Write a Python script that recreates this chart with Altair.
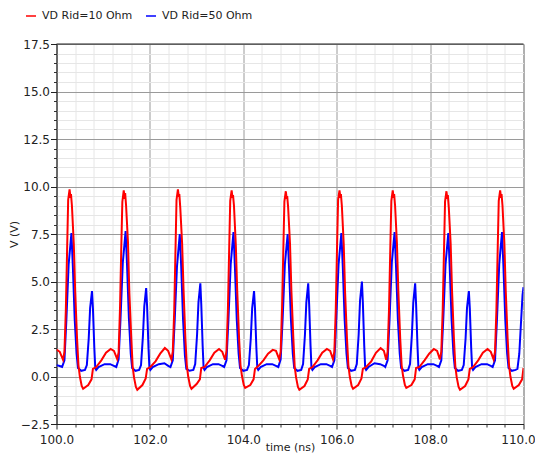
import altair as alt
import pandas as pd

FONT = "DejaVu Sans"
SERIES = ["VD Rid=10 Ohm", "VD Rid=50 Ohm"]
COLORS = ["#ff0000", "#0000ff"]

# ---- axis tick positions ----
x_major = [100.0, 102.0, 104.0, 106.0, 108.0, 110.0]
x_minor = [100.4, 100.8, 101.2, 101.6, 102.4, 102.8, 103.2, 103.6, 104.4, 104.8,
           105.2, 105.6, 106.4, 106.8, 107.2, 107.6, 108.4, 108.8, 109.2, 109.6]
y_major = [-2.5, 0.0, 2.5, 5.0, 7.5, 10.0, 12.5, 15.0, 17.5]
y_minor = [-2.0, -1.5, -1.0, -0.5, 0.5, 1.0, 1.5, 2.0, 3.0, 3.5, 4.0, 4.5,
           5.5, 6.0, 6.5, 7.0, 8.0, 8.5, 9.0, 9.5, 10.5, 11.0, 11.5, 12.0,
           13.0, 13.5, 14.0, 14.5, 15.5, 16.0, 16.5, 17.0]

# ---- VD, Rid = 10 Ohm (red) ----
red_t = [
    100.00, 100.07,
    100.14, 100.17, 100.20, 100.23, 100.25, 100.28, 100.30, 100.31, 100.33, 100.37, 100.40, 100.44,
    100.47, 100.50, 100.54, 100.57, 100.68, 100.75, 100.78, 100.85, 100.96, 101.06, 101.16, 101.23,
    101.30, 101.33, 101.36, 101.39, 101.41, 101.44, 101.46, 101.47, 101.49, 101.53, 101.56, 101.60,
    101.63, 101.66, 101.70, 101.73, 101.84, 101.91, 101.94, 102.01, 102.12, 102.22, 102.32, 102.39,
    102.46, 102.49, 102.52, 102.55, 102.57, 102.60, 102.62, 102.63, 102.65, 102.69, 102.72, 102.76,
    102.79, 102.82, 102.86, 102.89, 103.00, 103.07, 103.10, 103.17, 103.28, 103.38, 103.48, 103.55,
    103.61, 103.64, 103.67, 103.70, 103.72, 103.75, 103.77, 103.78, 103.80, 103.84, 103.87, 103.91,
    103.94, 103.97, 104.01, 104.04, 104.15, 104.22, 104.25, 104.32, 104.43, 104.53, 104.63, 104.70,
    104.77, 104.80, 104.83, 104.86, 104.88, 104.91, 104.93, 104.94, 104.96, 105.00, 105.03, 105.07,
    105.10, 105.13, 105.17, 105.20, 105.31, 105.38, 105.41, 105.48, 105.59, 105.69, 105.79, 105.86,
    105.92, 105.95, 105.98, 106.01, 106.03, 106.06, 106.08, 106.09, 106.11, 106.15, 106.18, 106.22,
    106.25, 106.28, 106.32, 106.35, 106.46, 106.53, 106.56, 106.63, 106.74, 106.84, 106.94, 107.01,
    107.06, 107.09, 107.12, 107.15, 107.17, 107.20, 107.22, 107.23, 107.25, 107.29, 107.32, 107.36,
    107.39, 107.42, 107.46, 107.49, 107.60, 107.67, 107.70, 107.77, 107.88, 107.98, 108.08, 108.15,
    108.21, 108.24, 108.27, 108.30, 108.32, 108.35, 108.37, 108.38, 108.40, 108.44, 108.47, 108.51,
    108.54, 108.57, 108.61, 108.64, 108.75, 108.82, 108.85, 108.92, 109.03, 109.13, 109.23, 109.30,
    109.36, 109.39, 109.42, 109.45, 109.47, 109.50, 109.52, 109.53, 109.55, 109.59, 109.62, 109.66,
    109.69, 109.72, 109.76, 109.79, 109.90, 109.97, 110.00,
]
red_v = [
    1.42, 1.30,
    0.88, 1.30, 3.50, 7.00, 9.30, 9.85, 9.40, 9.60, 9.00, 7.00, 4.50, 2.00,
    0.60, 0.00, -0.50, -0.65, -0.45, -0.15, 0.40, 0.50, 0.85, 1.25, 1.45, 1.35,
    0.92, 1.25, 3.60, 7.10, 9.20, 9.80, 9.35, 9.65, 9.00, 7.10, 4.40, 2.10,
    0.55, -0.05, -0.55, -0.70, -0.45, -0.10, 0.40, 0.50, 0.80, 1.20, 1.50, 1.35,
    0.90, 1.30, 3.40, 6.90, 9.30, 9.85, 9.45, 9.60, 8.90, 7.00, 4.60, 2.00,
    0.60, 0.00, -0.50, -0.65, -0.40, -0.15, 0.45, 0.50, 0.85, 1.25, 1.45, 1.30,
    0.88, 1.35, 3.50, 7.00, 9.25, 9.80, 9.40, 9.55, 9.00, 6.90, 4.50, 2.00,
    0.60, 0.05, -0.45, -0.60, -0.45, -0.15, 0.40, 0.55, 0.85, 1.20, 1.40, 1.35,
    0.90, 1.30, 3.60, 7.00, 9.20, 9.75, 9.35, 9.50, 8.90, 7.00, 4.50, 2.10,
    0.55, -0.05, -0.55, -0.70, -0.50, -0.15, 0.40, 0.50, 0.85, 1.25, 1.45, 1.35,
    0.92, 1.30, 3.50, 7.10, 9.30, 9.80, 9.40, 9.60, 9.00, 7.00, 4.40, 2.00,
    0.60, 0.00, -0.50, -0.65, -0.45, -0.10, 0.40, 0.50, 0.80, 1.25, 1.50, 1.35,
    0.88, 1.30, 3.50, 7.00, 9.25, 9.80, 9.40, 9.60, 9.00, 7.00, 4.50, 2.00,
    0.60, 0.05, -0.45, -0.60, -0.45, -0.15, 0.45, 0.50, 0.85, 1.20, 1.45, 1.35,
    0.90, 1.30, 3.50, 6.90, 9.20, 9.75, 9.35, 9.55, 8.90, 7.00, 4.50, 2.00,
    0.55, -0.05, -0.55, -0.70, -0.50, -0.15, 0.40, 0.50, 0.85, 1.25, 1.45, 1.30,
    0.90, 1.30, 3.50, 7.00, 9.25, 9.80, 9.40, 9.60, 9.00, 7.00, 4.50, 2.00,
    0.60, 0.00, -0.50, -0.65, -0.45, -0.15, 0.45,
]

# ---- VD, Rid = 50 Ohm (blue) ----
blue_t = [
    100.00, 100.07,
    100.12, 100.17, 100.21, 100.26, 100.32, 100.35, 100.39, 100.43, 100.46, 100.53, 100.61, 100.65,
    100.69, 100.72, 100.76, 100.78, 100.81, 100.83, 100.85, 100.90, 101.03, 101.15, 101.24,
    101.28, 101.33, 101.37, 101.42, 101.48, 101.51, 101.55, 101.59, 101.62, 101.69, 101.77, 101.81,
    101.85, 101.88, 101.92, 101.94, 101.97, 101.99, 102.01, 102.06, 102.19, 102.31, 102.40,
    102.44, 102.49, 102.53, 102.58, 102.64, 102.67, 102.71, 102.75, 102.78, 102.85, 102.93, 102.97,
    103.01, 103.04, 103.08, 103.10, 103.13, 103.15, 103.17, 103.22, 103.35, 103.47, 103.56,
    103.59, 103.64, 103.68, 103.73, 103.79, 103.82, 103.86, 103.90, 103.93, 104.00, 104.08, 104.12,
    104.16, 104.19, 104.23, 104.25, 104.28, 104.30, 104.32, 104.37, 104.50, 104.62, 104.71,
    104.75, 104.80, 104.84, 104.89, 104.95, 104.98, 105.02, 105.06, 105.09, 105.16, 105.24, 105.28,
    105.32, 105.35, 105.39, 105.41, 105.44, 105.46, 105.48, 105.53, 105.66, 105.78, 105.87,
    105.90, 105.95, 105.99, 106.04, 106.10, 106.13, 106.17, 106.21, 106.24, 106.31, 106.39, 106.43,
    106.47, 106.50, 106.54, 106.56, 106.59, 106.61, 106.63, 106.68, 106.81, 106.93, 107.02,
    107.04, 107.09, 107.13, 107.18, 107.24, 107.27, 107.31, 107.35, 107.38, 107.45, 107.53, 107.57,
    107.61, 107.64, 107.68, 107.70, 107.73, 107.75, 107.77, 107.82, 107.95, 108.07, 108.16,
    108.19, 108.24, 108.28, 108.33, 108.39, 108.42, 108.46, 108.50, 108.53, 108.60, 108.68, 108.72,
    108.76, 108.79, 108.83, 108.85, 108.88, 108.90, 108.92, 108.97, 109.10, 109.22, 109.31,
    109.34, 109.39, 109.43, 109.48, 109.54, 109.57, 109.61, 109.65, 109.68, 109.75, 109.83, 109.87,
    109.91, 109.95, 109.98, 110.00,
]
blue_v = [
    0.60, 0.55,
    0.50, 0.85, 2.90, 5.90, 7.55, 5.80, 3.00, 1.20, 0.45, 0.30, 0.35, 0.60,
    2.00, 3.60, 4.50, 3.60, 1.50, 0.45, 0.35, 0.50, 0.65, 0.65, 0.55,
    0.50, 0.90, 3.00, 6.00, 7.65, 5.90, 3.10, 1.20, 0.45, 0.30, 0.35, 0.60,
    2.10, 3.70, 4.65, 3.70, 1.50, 0.45, 0.35, 0.50, 0.65, 0.70, 0.55,
    0.50, 0.85, 2.90, 5.80, 7.50, 5.80, 3.00, 1.10, 0.40, 0.30, 0.35, 0.65,
    2.20, 3.90, 4.90, 3.80, 1.60, 0.45, 0.35, 0.50, 0.65, 0.65, 0.55,
    0.50, 0.85, 2.90, 5.90, 7.60, 5.80, 3.00, 1.20, 0.45, 0.30, 0.35, 0.60,
    2.00, 3.60, 4.50, 3.60, 1.50, 0.45, 0.35, 0.50, 0.65, 0.65, 0.55,
    0.50, 0.90, 2.90, 5.90, 7.50, 5.70, 3.00, 1.20, 0.45, 0.30, 0.35, 0.65,
    2.20, 3.90, 4.90, 3.80, 1.60, 0.45, 0.35, 0.50, 0.65, 0.65, 0.55,
    0.50, 0.85, 3.00, 5.90, 7.55, 5.80, 3.00, 1.20, 0.45, 0.30, 0.35, 0.65,
    2.20, 4.00, 5.00, 3.90, 1.60, 0.45, 0.35, 0.50, 0.70, 0.65, 0.55,
    0.50, 0.85, 2.90, 6.00, 7.60, 5.80, 3.00, 1.20, 0.45, 0.30, 0.35, 0.65,
    2.20, 3.90, 4.90, 3.80, 1.60, 0.45, 0.35, 0.50, 0.65, 0.65, 0.55,
    0.50, 0.85, 2.90, 5.90, 7.55, 5.80, 3.00, 1.20, 0.45, 0.30, 0.35, 0.60,
    2.00, 3.60, 4.50, 3.60, 1.50, 0.45, 0.35, 0.50, 0.65, 0.65, 0.55,
    0.50, 0.85, 2.90, 5.90, 7.60, 5.80, 3.00, 1.20, 0.45, 0.30, 0.35, 0.40,
    1.20, 3.00, 4.30, 4.70,
]

red = pd.DataFrame({"t": red_t, "v": red_v, "series": SERIES[0]})
blue = pd.DataFrame({"t": blue_t, "v": blue_v, "series": SERIES[1]})
top_edge = pd.DataFrame({"v": [y_major[-1]]})

x_scale = alt.Scale(domain=[x_major[0], x_major[-1]], nice=False, zero=False)
y_scale = alt.Scale(domain=[y_major[0], y_major[-1]], nice=False, zero=False)
color_scale = alt.Scale(domain=SERIES, range=COLORS)

legend = alt.Legend(
    orient="none", legendX=-31.5, legendY=-34, direction="horizontal", title=None,
    symbolType="stroke", symbolSize=100, symbolStrokeWidth=1.5,
    labelFont=FONT, labelFontSize=11, labelColor="#222", labelOffset=5,
    columnPadding=10, padding=0,
)

minor_x_axis = alt.Axis(
    values=x_minor, orient="bottom", title=None, labels=False, domain=False,
    ticks=True, tickSize=3, tickColor="#333", grid=True, gridColor="#e6e6e6", gridWidth=1,
)
minor_y_axis = alt.Axis(
    values=y_minor, orient="left", title=None, labels=False, domain=False,
    ticks=True, tickSize=3, tickColor="#333", grid=True, gridColor="#e6e6e6", gridWidth=1,
)
major_x_axis = alt.Axis(
    values=x_major, orient="bottom", title="time (ns)", format=".1f",
    labelFont=FONT, labelFontSize=12, labelColor="#222", labelPadding=5,
    labelFlush=False, labelOverlap=False,
    labelOffset={"condition": {"test": "datum.value >= 109.9", "value": -5.5}, "value": 0},
    tickSize=5, tickColor="#222", domainColor="#222", domainWidth=1,
    grid=True, gridColor="#9a9a9a", gridWidth=1,
    titleFont=FONT, titleFontSize=11, titleFontWeight="normal", titleColor="#222",
    titleBaseline="alphabetic", titleY=26,
)
major_y_axis = alt.Axis(
    values=y_major, orient="left", title="V (V)", format=".1f",
    labelFont=FONT, labelFontSize=12, labelColor="#222", labelPadding=1,
    labelOverlap=False,
    tickSize=6, tickColor="#222", domainColor="#222", domainWidth=1,
    grid=True, gridColor="#9a9a9a", gridWidth=1,
    titleFont=FONT, titleFontSize=11, titleFontWeight="normal", titleColor="#222",
    titlePadding=1,
)

blue_line = alt.Chart(blue).mark_line(strokeWidth=2, clip=True).encode(
    x=alt.X("t:Q", scale=x_scale, axis=minor_x_axis),
    y=alt.Y("v:Q", scale=y_scale, axis=minor_y_axis),
    color=alt.Color("series:N", scale=color_scale, legend=legend),
)
red_line = alt.Chart(red).mark_line(strokeWidth=2, clip=True).encode(
    x=alt.X("t:Q", scale=x_scale, axis=major_x_axis),
    y=alt.Y("v:Q", scale=y_scale, axis=major_y_axis),
    color=alt.Color("series:N", scale=color_scale, legend=legend),
)
top_rule = alt.Chart(top_edge).mark_rule(color="#222", strokeWidth=1).encode(
    y=alt.Y("v:Q", scale=y_scale, axis=None),
)

chart = (
    alt.layer(blue_line, red_line, top_rule)
    .resolve_axis(x="independent", y="independent")
    .properties(
        width=467, height=380,
        autosize=alt.AutoSizeParams(type="none"),
        padding={"left": 48.5, "top": 36, "right": 11.5, "bottom": 29},
        background="white",
    )
    .configure_view(stroke="#8c8c8c", strokeWidth=1)
)

chart.save("out.html", embed_options={"renderer": "svg", "actions": False})
